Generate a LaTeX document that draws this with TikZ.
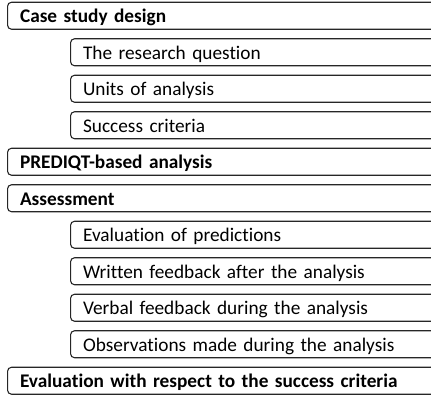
\documentclass[tikz,border=0pt]{standalone}
\usepackage{fontspec}
\setmainfont{Carlito}[Ligatures=NoCommon]
\tikzset{
  rowbox/.style={draw=black!85, line width=1.1pt, rounded corners=4pt, anchor=north west,
    minimum height=27pt, inner ysep=0pt, inner xsep=12.5pt, text height=13.6pt, text depth=0pt,
    align=left, font=\fontsize{19.3pt}{22pt}\selectfont},
  toprow/.style={rowbox, text width=413pt, font=\fontsize{19.3pt}{22pt}\selectfont\bfseries},
  subrow/.style={rowbox, text width=350pt},
}
\begin{document}
\begin{tikzpicture}[x=1pt,y=-1pt]
\useasboundingbox (0,0) rectangle (431,395);
\clip (0,0) rectangle (431,395);
\node[toprow] (csd) at (7,1.7) {Case study design};
\node[subrow] (rq) at (70,38.2) {The research question};
\node[subrow] (ua) at (70,74.7) {Units of analysis};
\node[subrow] (sc) at (70,111.2) {Success criteria};
\node[toprow] (pba) at (7,147.7) {PREDIQT-based analysis};
\node[toprow] (as) at (7,184.2) {Assessment};
\node[subrow] (ep) at (70,220.7) {Evaluation of predictions};
\node[subrow] (wf) at (70,257.2) {Written feedback after the analysis};
\node[subrow] (vf) at (70,293.7) {Verbal feedback during the analysis};
\node[subrow] (om) at (70,330.2) {Observations made during the analysis};
\node[toprow] (ev) at (7,366.7) {Evaluation with respect to the success criteria};
\end{tikzpicture}
\end{document}
